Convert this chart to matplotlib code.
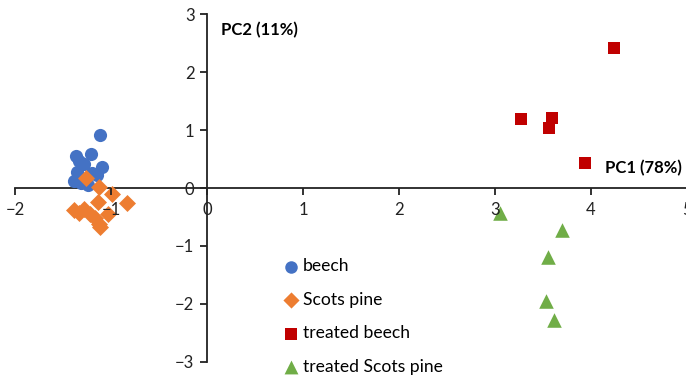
import matplotlib.pyplot as plt

plt.rcParams['font.family'] = ['Lato', 'DejaVu Sans']

# PCA scores
beech_pc1 = [-1.11, -1.36, -1.21, -1.33, -1.28, -1.09, -1.35, -1.20, -1.15, -1.39, -1.31, -1.24]
beech_pc2 = [0.91, 0.55, 0.58, 0.47, 0.42, 0.37, 0.28, 0.26, 0.22, 0.12, 0.08, 0.05]

pine_pc1 = [-1.26, -1.12, -0.99, -1.14, -0.83, -1.39, -1.33, -1.28, -1.22, -1.17, -1.03, -1.13, -1.11]
pine_pc2 = [0.18, 0.01, -0.10, -0.24, -0.25, -0.38, -0.43, -0.36, -0.45, -0.52, -0.45, -0.62, -0.68]

tbeech_pc1 = [4.24, 3.27, 3.59, 3.56, 3.94]
tbeech_pc2 = [2.41, 1.19, 1.21, 1.03, 0.43]

tpine_pc1 = [3.05, 3.70, 3.55, 3.53, 3.61]
tpine_pc2 = [-0.43, -0.72, -1.19, -1.95, -2.28]

xticks = [-2, -1, 0, 1, 2, 3, 4, 5]
yticks = [-3, -2, -1, 0, 1, 2, 3]

fig = plt.figure(figsize=(6.86, 3.82), dpi=100)
ax = fig.add_axes([15 / 686, 20 / 382, 672 / 686, 348 / 382])

ax.scatter(beech_pc1, beech_pc2, s=90, marker='o', color='#4472C4', label='beech', zorder=3, linewidths=0)
ax.scatter(pine_pc1, pine_pc2, s=75, marker='D', color='#ED7D31', label='Scots pine', zorder=3, linewidths=0)
ax.scatter(tbeech_pc1, tbeech_pc2, s=75, marker='s', color='#C00000', label='treated beech', zorder=3, linewidths=0)
ax.scatter(tpine_pc1, tpine_pc2, s=110, marker='^', color='#70AD47', label='treated Scots pine', zorder=3, linewidths=0)

ax.set_xlim(-2, 5)
ax.set_ylim(-3, 3)
ax.set_xticks(xticks)
ax.set_yticks(yticks)

# axes crossing at the origin
ax.spines['left'].set_position(('data', 0))
ax.spines['bottom'].set_position(('data', 0))
ax.spines['right'].set_visible(False)
ax.spines['top'].set_visible(False)
for sp in ('left', 'bottom'):
    ax.spines[sp].set_linewidth(1.3)
    ax.spines[sp].set_color('#222222')
ax.tick_params(direction='out', length=5, width=1.3, color='#222222',
               labelsize=12, labelcolor='#222222')
ax.tick_params(axis='x', pad=5)
ax.tick_params(axis='y', pad=4)
ax.xaxis.set_zorder(4)
ax.patch.set_alpha(0)

ax.text(0.15, 2.73, 'PC2 (11%)', fontsize=12, fontweight='bold', ha='left', va='center')
ax.text(4.15, 0.35, 'PC1 (78%)', fontsize=12, fontweight='bold', ha='left', va='center')

ax.legend(loc='upper left', bbox_to_anchor=(0.385, 0.318), frameon=False, fontsize=12.6,
          handletextpad=0.05, labelspacing=1.0, borderaxespad=0, handlelength=1.2,
          scatterpoints=1, markerscale=0.95)

fig.savefig('out.png', dpi=100)
